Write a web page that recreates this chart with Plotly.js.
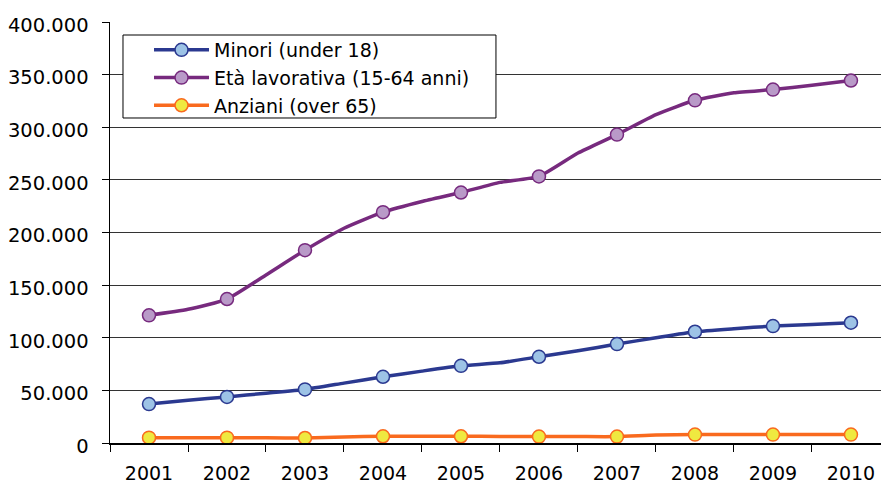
<!DOCTYPE html>
<html>
<head>
<meta charset="utf-8">
<script src="https://cdn.plot.ly/plotly-3.0.1.min.js"></script>
<style>html,body{margin:0;padding:0;background:#fff;}#chart{width:881px;height:484px;}</style>
</head>
<body>
<div id="chart"></div>
<script>
// Data
var yearLabels = ['2001','2002','2003','2004','2005','2006','2007','2008','2009','2010'];
var yearValues = [2001,2002,2003,2004,2005,2006,2007,2008,2009,2010];
var xPoints = [2001,2001.5,2002,2002.5,2003,2003.5,2004,2004.5,2005,2005.5,2006,2006.5,2007,2007.5,2008,2008.5,2009,2009.5,2010];
var minori = [37000,40700,43800,47300,50900,56900,62900,68300,73300,76200,81900,87600,94000,100000,105700,108600,111100,112700,114300];
var etaLavorativa = [121300,127000,136800,159700,183200,204000,219300,229500,238000,247600,253300,275500,293000,312000,325600,332700,335800,340000,344400];
var anziani = [5100,5100,5100,5000,4800,5700,6400,6400,6400,6200,6100,6100,6100,7600,8000,8000,8000,8000,8000];
var seriesNames = ['Minori (under 18)','Età lavorativa (15-64 anni)','Anziani (over 65)'];
var yTickVals = [0,50000,100000,150000,200000,250000,300000,350000,400000];
var yTickText = ['0','50.000','100.000','150.000','200.000','250.000','300.000','350.000','400.000'];

function markerColors(fill){
  return xPoints.map(function(x){ return (x % 1 === 0) ? fill : 'rgba(0,0,0,0)'; });
}
function mk(name, y, lineColor, fillColor){
  return {
    type:'scatter', mode:'lines+markers', name:name, x:xPoints, y:y,
    line:{color:lineColor, width:3.5, shape:'spline', smoothing:0.5},
    marker:{size:13, color:markerColors(fillColor), line:{color:markerColors(lineColor), width:1.5}},
    hoverinfo:'skip'
  };
}
var traces = [
  mk(seriesNames[0], minori, '#2b3990', '#9dc3e6'),
  mk(seriesNames[1], etaLavorativa, '#772a7e', '#b99ac8'),
  mk(seriesNames[2], anziani, '#f96a1e', '#efe940')
];
var layout = {
  width:881, height:484,
  margin:{l:110, r:0, t:22, b:41},
  paper_bgcolor:'#fff', plot_bgcolor:'#fff',
  font:{family:'DejaVu Sans, Verdana, sans-serif', size:19, color:'#000'},
  showlegend:true,
  legend:{x:0.0506, y:0.9786, xanchor:'left', yanchor:'top', bgcolor:'rgba(0,0,0,0)', borderwidth:0,
          font:{size:19}, itemwidth:55, tracegroupgap:0},
  shapes:[{type:'rect', xref:'paper', yref:'paper', x0:0.01686, x1:0.5006, y0:0.7720, y1:0.9691,
           fillcolor:'#fff', line:{color:'#000', width:1}, layer:'above'}],
  xaxis:{range:[2000.5, 2010.385], tickvals:yearValues, ticktext:yearLabels, ticks:'', ticklen:0,
         showgrid:false, zeroline:false, showline:true, linecolor:'#000', linewidth:1.5,
         ticklabelstandoff:13,
         minor:{ticks:'outside', tick0:2000.5, dtick:1, ticklen:7, tickcolor:'#000', tickwidth:1, showgrid:false}},
  yaxis:{range:[0,400000], tickvals:yTickVals, ticktext:yTickText, ticks:'outside', ticklen:7, tickcolor:'#000',
         showgrid:true, gridcolor:'#333', gridwidth:1, zeroline:false, showline:true, linecolor:'#000', linewidth:1.5,
         ticklabelstandoff:9, ticklabelshift:3, tickfont:{size:19.5}}
};
Plotly.newPlot('chart', traces, layout, {displayModeBar:false, staticPlot:true});
</script>
</body>
</html>
